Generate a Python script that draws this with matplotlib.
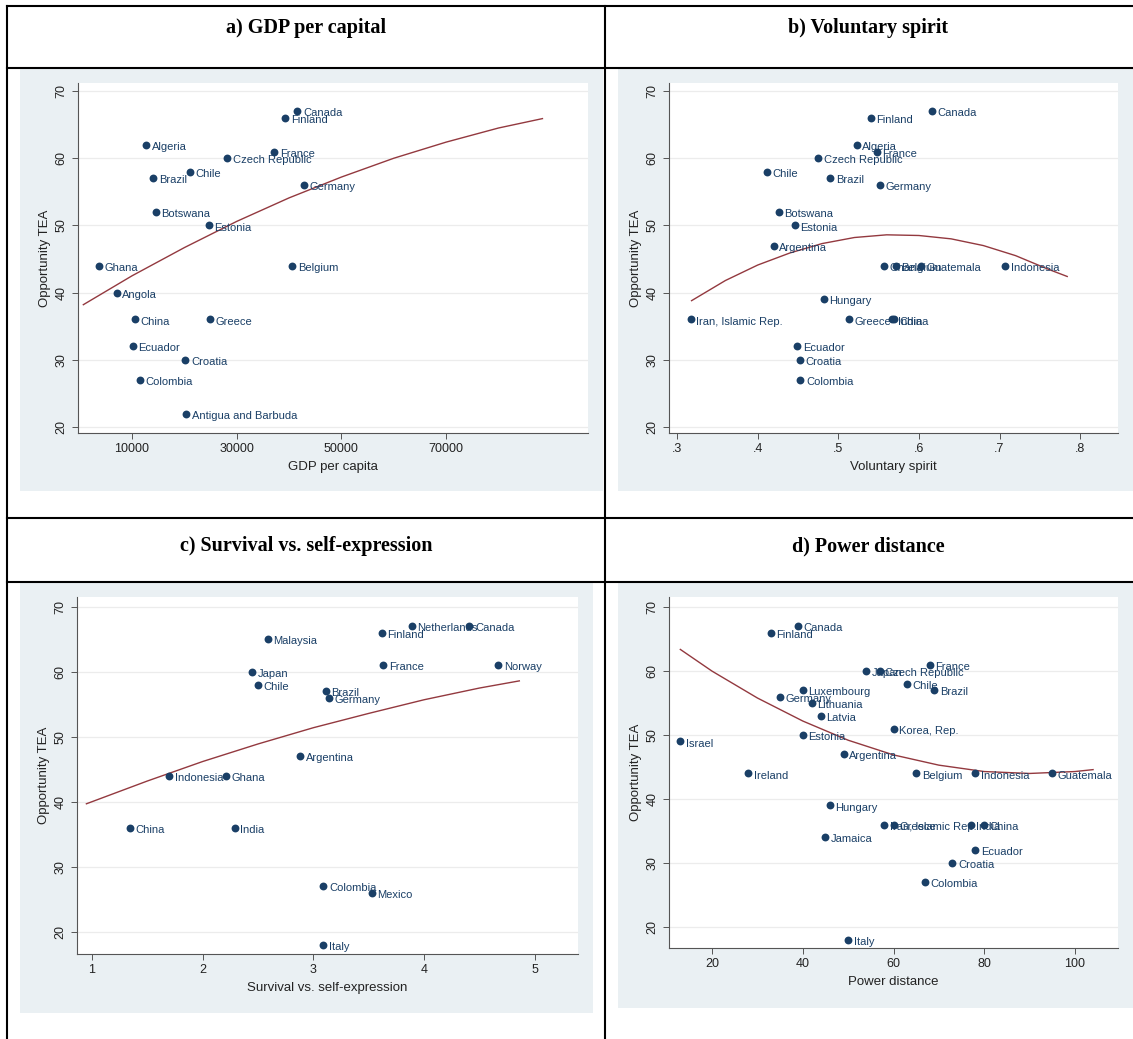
import matplotlib.pyplot as plt
from matplotlib.patches import Rectangle
from matplotlib.lines import Line2D

W, H = 1133, 1039

# a) GDP per capita
gdp_names = ["Canada", "Finland", "Algeria", "France", "Czech Republic", "Chile", "Brazil",
             "Germany", "Botswana", "Estonia", "Ghana", "Belgium", "Angola", "China", "Greece",
             "Ecuador", "Croatia", "Colombia", "Antigua and Barbuda"]
gdp_x = [41600, 39300, 12700, 37200, 28200, 21000, 14100, 42800, 14550, 24700, 3650, 40600,
         7100, 10600, 24800, 10100, 20200, 11500, 20400]
gdp_y = [67, 66, 62, 61, 60, 58, 57, 56, 52, 50, 44, 44, 40, 36, 36, 32, 30, 27, 22]
gdp_fit_x = [700, 10000, 20000, 30000, 40000, 50000, 60000, 70000, 80000, 88400]
gdp_fit_y = [38.2, 42.5, 46.7, 50.6, 54.1, 57.2, 60.0, 62.4, 64.5, 65.9]

# b) Voluntary spirit
vol_names = ["Canada", "Finland", "Algeria", "France", "Czech Republic", "Chile", "Brazil",
             "Germany", "Botswana", "Estonia", "Argentina", "Ghana", "Belgium", "Guatemala",
             "Indonesia", "Hungary", "Iran, Islamic Rep.", "Greece", "India", "China",
             "Ecuador", "Croatia", "Colombia"]
vol_x = [0.616, 0.540, 0.523, 0.548, 0.475, 0.411, 0.490, 0.552, 0.426, 0.446, 0.420, 0.557,
         0.571, 0.602, 0.707, 0.482, 0.317, 0.513, 0.567, 0.569, 0.449, 0.452, 0.453]
vol_y = [67, 66, 62, 61, 60, 58, 57, 56, 52, 50, 47, 44, 44, 44, 44, 39, 36, 36, 36, 36,
         32, 30, 27]
vol_fit_x = [0.318, 0.36, 0.40, 0.44, 0.48, 0.52, 0.56, 0.60, 0.64, 0.68, 0.72, 0.76, 0.784]
vol_fit_y = [38.8, 41.8, 44.1, 45.9, 47.3, 48.2, 48.6, 48.5, 48.0, 47.0, 45.5, 43.5, 42.4]

# c) Survival vs. self-expression
sse_names = ["Netherlands", "Canada", "Finland", "Malaysia", "France", "Norway", "Japan",
             "Chile", "Brazil", "Germany", "Argentina", "Indonesia", "Ghana", "China", "India",
             "Colombia", "Mexico", "Italy"]
sse_x = [3.89, 4.41, 3.62, 2.59, 3.63, 4.67, 2.45, 2.50, 3.11, 3.14, 2.88, 1.70, 2.21, 1.34,
         2.29, 3.09, 3.53, 3.09]
sse_y = [67, 67, 66, 65, 61, 61, 60, 58, 57, 56, 47, 44, 44, 36, 36, 27, 26, 18]
sse_fit_x = [0.95, 1.5, 2.0, 2.5, 3.0, 3.5, 4.0, 4.5, 4.86]
sse_fit_y = [39.7, 43.2, 46.2, 48.9, 51.4, 53.6, 55.7, 57.5, 58.6]

# d) Power distance
pd_names = ["Canada", "Finland", "France", "Japan", "Czech Republic", "Chile", "Brazil",
            "Luxembourg", "Germany", "Lithuania", "Latvia", "Korea, Rep.", "Estonia", "Israel",
            "Argentina", "Ireland", "Belgium", "Indonesia", "Guatemala", "Hungary",
            "Iran, Islamic Rep.", "Greece", "India", "China", "Jamaica", "Ecuador", "Croatia",
            "Colombia", "Italy"]
pd_x = [39, 33, 68, 54, 57, 63, 69, 40, 35, 42, 44, 60, 40, 13, 49, 28, 65, 78, 95, 46, 58,
        60, 77, 80, 45, 78, 73, 67, 50]
pd_y = [67, 66, 61, 60, 60, 58, 57, 57, 56, 55, 53, 51, 50, 49, 47, 44, 44, 44, 44, 39, 36,
        36, 36, 36, 34, 32, 30, 27, 18]
pd_fit_x = [13, 20, 30, 40, 50, 60, 70, 80, 90, 100, 104]
pd_fit_y = [63.4, 60.0, 55.8, 52.2, 49.2, 46.9, 45.3, 44.3, 44.0, 44.3, 44.6]

navy = "#1a3f66"
maroon = "#93393f"
panel_bg = "#eaf0f3"
yticks = [20, 30, 40, 50, 60, 70]

plt.rcParams["font.family"] = "Liberation Sans"


def px_box(left, top, right, bottom):
    return [left / W, 1 - bottom / H, (right - left) / W, (bottom - top) / H]


def hline(y, x0, x1):
    fig.add_artist(Line2D([x0 / W, x1 / W], [1 - y / H, 1 - y / H], color="black", lw=1.5))


def vline(x, y0, y1):
    fig.add_artist(Line2D([x / W, x / W], [1 - y0 / H, 1 - y1 / H], color="black", lw=1.5))


def draw_panel(box, xs, ys, names, fit_x, fit_y, xlim, ylim, xticks, xticklabels, xlabel):
    ax = fig.add_axes(px_box(*box))
    ax.set_facecolor("white")
    for t in yticks:
        ax.axhline(t, color="#ececec", lw=0.9, zorder=0)
    ax.plot(fit_x, fit_y, color=maroon, lw=1.0, zorder=2)
    ax.scatter(xs, ys, s=32, color=navy, linewidths=0, zorder=3)
    for name, x, y in zip(names, xs, ys):
        ax.annotate(name, (x, y), xytext=(4, -1.5), textcoords="offset points",
                    ha="left", va="center", fontsize=8, color=navy, zorder=4)
    ax.set_xlim(xlim)
    ax.set_ylim(ylim)
    ax.set_xticks(xticks)
    ax.set_xticklabels(xticklabels)
    ax.set_yticks(yticks)
    plt.setp(ax.get_yticklabels(), rotation=90, va="center")
    for s in ["top", "right"]:
        ax.spines[s].set_visible(False)
    for s in ["left", "bottom"]:
        ax.spines[s].set_color("#555555")
        ax.spines[s].set_linewidth(0.8)
    ax.tick_params(length=4, width=0.7, color="#555555", labelsize=9, labelcolor="#222222")
    ax.set_xlabel(xlabel, fontsize=9.5, color="#222222", labelpad=4)
    ax.set_ylabel("Opportunity TEA", fontsize=9.5, color="#222222", labelpad=3)
    return ax


fig = plt.figure(figsize=(W / 100, H / 100), dpi=100)

# grey graph regions behind each plot
for l, t, r, b in [(20, 68, 603, 491), (618, 68, 1133, 491),
                   (20, 582, 593, 1013), (618, 582, 1133, 1008)]:
    fig.add_artist(Rectangle((l / W, 1 - b / H), (r - l) / W, (b - t) / H,
                             transform=fig.transFigure, facecolor=panel_bg,
                             edgecolor="none", zorder=0))

draw_panel((78, 83, 588, 433), gdp_x, gdp_y, gdp_names, gdp_fit_x, gdp_fit_y,
           (-320, 97100), (19.1, 71.2), [10000, 30000, 50000, 70000],
           ["10000", "30000", "50000", "70000"], "GDP per capita")
draw_panel((669, 83, 1118, 433), vol_x, vol_y, vol_names, vol_fit_x, vol_fit_y,
           (0.290, 0.847), (19.1, 71.2), [0.3, 0.4, 0.5, 0.6, 0.7, 0.8],
           [".3", ".4", ".5", ".6", ".7", ".8"], "Voluntary spirit")
draw_panel((77, 597, 578, 954), sse_x, sse_y, sse_names, sse_fit_x, sse_fit_y,
           (0.865, 5.39), (16.6, 71.5), [1, 2, 3, 4, 5],
           ["1", "2", "3", "4", "5"], "Survival vs. self-expression")
draw_panel((669, 597, 1118, 948), pd_x, pd_y, pd_names, pd_fit_x, pd_fit_y,
           (10.5, 109.5), (16.7, 71.6), [20, 40, 60, 80, 100],
           ["20", "40", "60", "80", "100"], "Power distance")

# table rules
for y in [6, 68, 518, 582]:
    hline(y, 7, W)
vline(7, 6, H)
vline(605, 6, H)

headers = [("a) GDP per capital", 306, 28), ("b) Voluntary spirit", 868, 28),
           ("c) Survival vs. self-expression", 306, 546), ("d) Power distance", 868, 546)]
for text, x, y in headers:
    fig.text(x / W, 1 - y / H, text, ha="center", va="center", fontsize=14.5,
             fontweight="bold", family="Liberation Serif")

fig.savefig("out.png", dpi=100)
